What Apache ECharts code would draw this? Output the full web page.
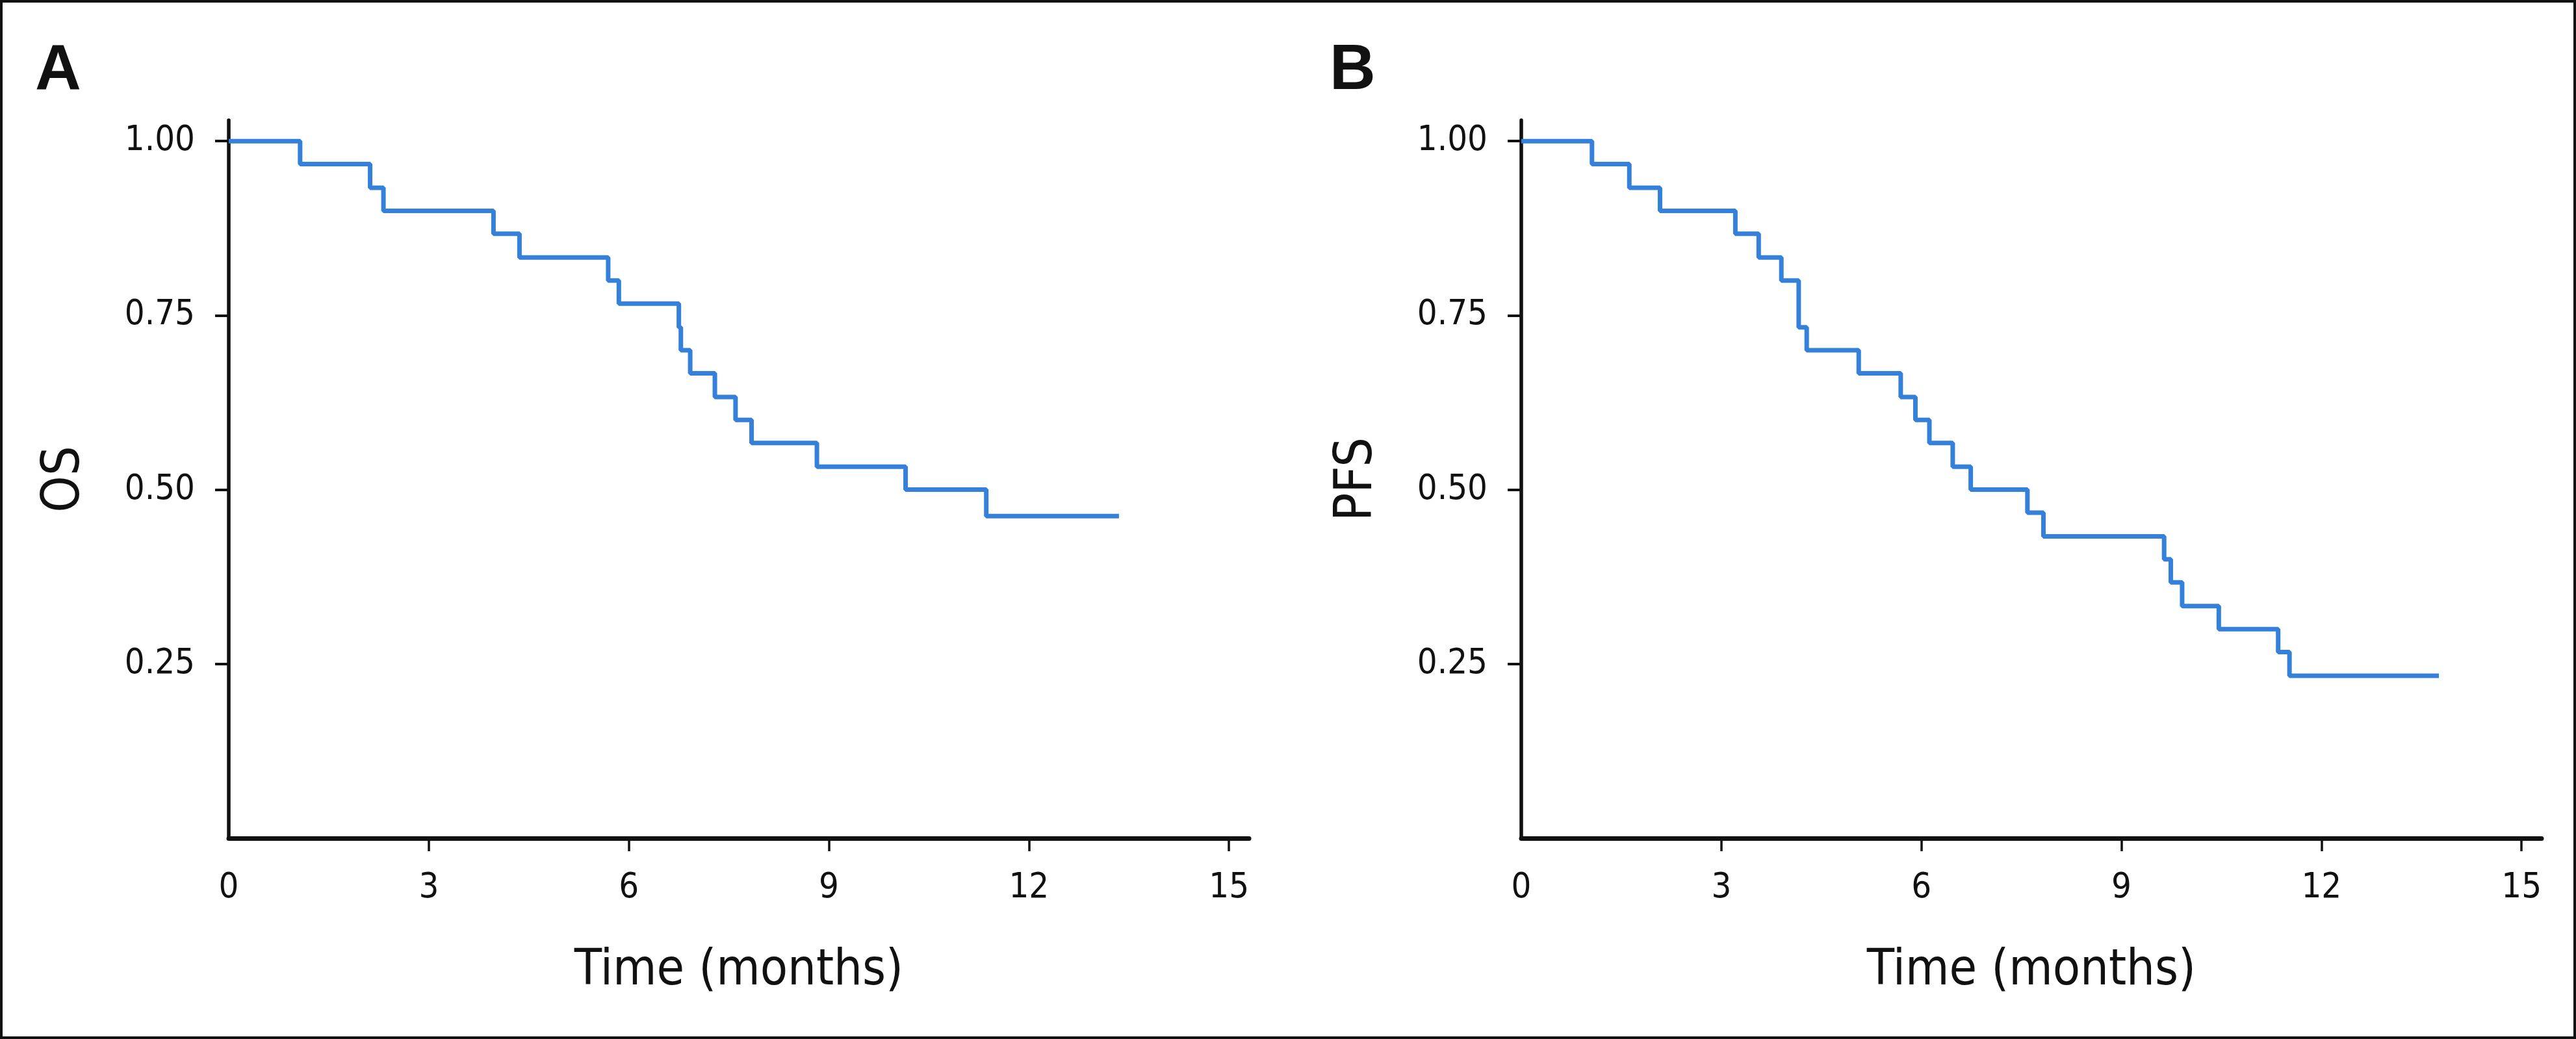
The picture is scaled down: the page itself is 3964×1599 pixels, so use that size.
<!DOCTYPE html>
<html>
<head>
<meta charset="utf-8">
<script src="https://cdn.jsdelivr.net/npm/echarts@6/dist/echarts.min.js"></script>
<style>
html, body { margin: 0; padding: 0; background: #fff; }
#chart { width: 3964px; height: 1599px; }
</style>
</head>
<body>
<div id="chart"></div>
<script>
// ---- data ----
const xTickLabels = [0, 3, 6, 9, 12, 15];
const xTickMarks = [3, 6, 9, 12, 15];
const yTickLabels = [0.25, 0.50, 0.75, 1.00];

const osTime = [0, 1.07, 2.12, 2.32, 3.97, 4.36, 5.69, 5.85, 6.75, 6.78, 6.92, 7.29, 7.60, 7.84, 8.82, 10.15, 11.36, 13.35];
const osSurv = [1.000, 0.967, 0.933, 0.900, 0.867, 0.833, 0.800, 0.767, 0.733, 0.700, 0.667, 0.633, 0.600, 0.567, 0.533, 0.500, 0.462, 0.462];

const pfsTime = [0, 1.06, 1.62, 2.08, 3.21, 3.56, 3.90, 4.16, 4.28, 5.06, 5.69, 5.91, 6.12, 6.47, 6.74, 7.59, 7.83, 9.64, 9.74, 9.91, 10.46, 11.35, 11.52, 13.76];
const pfsSurv = [1.000, 0.967, 0.933, 0.900, 0.867, 0.833, 0.800, 0.733, 0.700, 0.667, 0.633, 0.600, 0.567, 0.533, 0.500, 0.467, 0.433, 0.400, 0.367, 0.333, 0.300, 0.267, 0.233, 0.233];

const panels = ['A', 'B'];
const yNames = ['OS', 'PFS'];
const xName = 'Time (months)';

// ---- styles ----
const FONT = "'Liberation Sans Narrow', 'Arial Narrow', 'DejaVu Sans Condensed', sans-serif";
const INK = '#111111';
const LINE = '#3580d8';

function pairs(t, v) { return t.map((x, i) => [x, v[i]]); }

function xAxis(gridIndex) {
  return {
    type: 'value', gridIndex, min: 0, max: 15.3,
    name: xName, nameLocation: 'middle', nameGap: 166,
    nameTextStyle: { fontFamily: FONT, fontSize: 77, color: INK },
    axisLine: { show: true, onZero: false, lineStyle: { color: INK, width: 7 } },
    axisTick: { show: true, length: 20, lineStyle: { color: INK, width: 3.5 }, customValues: xTickMarks },
    axisLabel: { show: true, margin: 50, fontFamily: FONT, fontSize: 54, color: INK, customValues: xTickLabels },
    splitLine: { show: false }
  };
}
function yAxis(gridIndex, name) {
  return {
    type: 'value', gridIndex, min: 0, max: 1.03,
    name, nameLocation: 'middle', nameGap: 212,
    nameTextStyle: { fontFamily: FONT, fontSize: 80, color: INK },
    axisLine: { show: true, onZero: false, lineStyle: { color: INK, width: 5.5 } },
    axisTick: { show: true, length: 21, lineStyle: { color: INK, width: 4 }, customValues: yTickLabels },
    axisLabel: { show: true, margin: 52, fontFamily: FONT, fontSize: 54, color: INK, customValues: yTickLabels,
      formatter: v => v.toFixed(2) },
    splitLine: { show: false }
  };
}

const chart = echarts.init(document.getElementById('chart'), null, { renderer: 'canvas' });
chart.setOption({
  animation: false,
  backgroundColor: '#ffffff',
  grid: [
    { left: 352, top: 185, width: 1570, height: 1105 },
    { left: 2341, top: 185, width: 1570, height: 1105 }
  ],
  xAxis: [xAxis(0), xAxis(1)],
  yAxis: [yAxis(0, yNames[0]), yAxis(1, yNames[1])],
  series: [
    { type: 'line', xAxisIndex: 0, yAxisIndex: 0, step: 'end', showSymbol: false,
      data: pairs(osTime, osSurv), lineStyle: { color: LINE, width: 7 }, itemStyle: { color: LINE } },
    { type: 'line', xAxisIndex: 1, yAxisIndex: 1, step: 'end', showSymbol: false,
      data: pairs(pfsTime, pfsSurv), lineStyle: { color: LINE, width: 7 }, itemStyle: { color: LINE } }
  ],
  graphic: [
    { type: 'rect', shape: { x: 2, y: 2, width: 3960, height: 1595 },
      style: { fill: null, stroke: INK, lineWidth: 4 }, silent: true },
    { type: 'text', left: 54, top: 61,
      style: { text: panels[0], font: "bold 98px 'Liberation Sans', Arial, sans-serif", fill: INK } },
    { type: 'text', left: 2046, top: 61,
      style: { text: panels[1], font: "bold 98px 'Liberation Sans', Arial, sans-serif", fill: INK } }
  ]
});
</script>
</body>
</html>
